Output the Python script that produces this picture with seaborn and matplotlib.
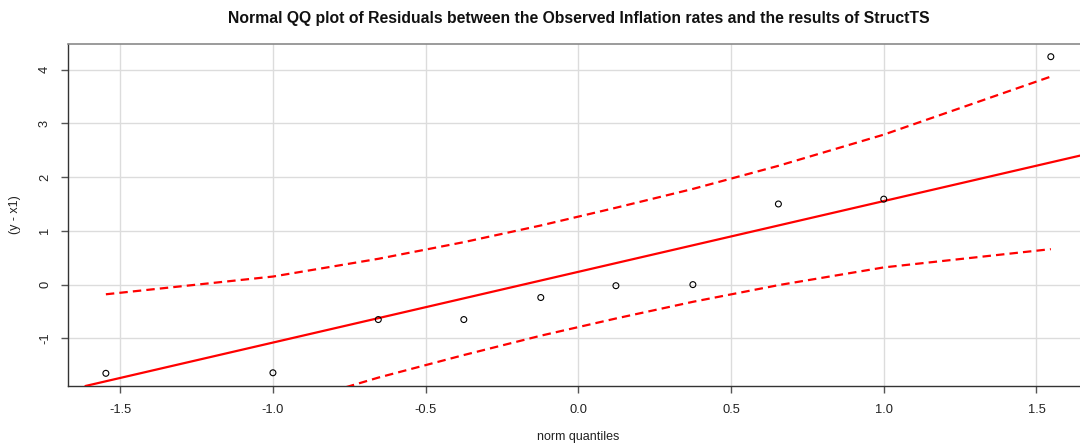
import matplotlib
matplotlib.use("Agg")
import matplotlib.pyplot as plt
import seaborn as sns
import pandas as pd

# ---- data ----
theo_quantiles = [-1.547, -1.000, -0.655, -0.375, -0.123, 0.123, 0.375, 0.655, 1.000, 1.547]
residuals = [-1.65, -1.64, -0.65, -0.65, -0.24, -0.02, 0.00, 1.50, 1.59, 4.24]
env_upper = [-0.18, 0.15, 0.48, 0.79, 1.10, 1.43, 1.78, 2.21, 2.79, 3.87]
env_lower = [-3.42, -2.31, -1.73, -1.31, -0.95, -0.63, -0.32, -0.01, 0.32, 0.66]
line_intercept = 0.238
line_slope = 1.316
x_ticks = [-1.5, -1.0, -0.5, 0.0, 0.5, 1.0, 1.5]
y_ticks = [-1, 0, 1, 2, 3, 4]
title = "Normal QQ plot of Residuals between the Observed Inflation rates and the results of StructTS"
x_label = "norm quantiles"
y_label = "(y - x1)"

sns.set_style("white")
plt.rcParams["font.family"] = ["Liberation Sans", "DejaVu Sans"]

df = pd.DataFrame({"z": theo_quantiles, "r": residuals,
                   "up": env_upper, "lo": env_lower})

fig = plt.figure(figsize=(10.8, 4.46), dpi=100)
ax = fig.add_axes([68 / 1080, 60 / 446, (1088.7 - 68) / 1080, (386 - 44) / 446])

ax.set_xlim(-1.671, 1.671)
ax.set_ylim(-1.886, 4.476)
ax.set_xticks(x_ticks)
ax.set_yticks(y_ticks)
ax.set_xticklabels([f"{t:.1f}" for t in x_ticks])
ax.set_yticklabels([str(t) for t in y_ticks], rotation=90, va="center")

ax.grid(True, color="#dcdcdc", linewidth=1.0)
ax.set_axisbelow(True)

sns.lineplot(data=df, x="z", y="up", ax=ax, color="red", linewidth=1.6,
             linestyle=(0, (3.8, 2.3)), zorder=3)
sns.lineplot(data=df, x="z", y="lo", ax=ax, color="red", linewidth=1.6,
             linestyle=(0, (3.8, 2.3)), zorder=3)
ax.axline((0, line_intercept), slope=line_slope, color="red", linewidth=1.6, zorder=3)
sns.scatterplot(data=df, x="z", y="r", ax=ax, s=18, facecolors="none",
                edgecolor="black", linewidth=0.8, zorder=4)

ax.set_xlabel("")
ax.set_ylabel("")

for side in ["left", "bottom"]:
    ax.spines[side].set_color("#333333")
    ax.spines[side].set_linewidth(1.0)
ax.spines["top"].set_color("#8a8a8a")
ax.spines["top"].set_linewidth(1.2)
ax.spines["right"].set_visible(False)

ax.tick_params(axis="both", direction="out", length=5.2, width=1.0,
               color="#555555", labelsize=9.3, labelcolor="#222222")
ax.tick_params(axis="x", pad=8)
ax.tick_params(axis="y", pad=7)
ax.tick_params(bottom=True, left=True)

fig.text(579 / 1080, 1 - 18 / 446, title, ha="center", va="center",
         fontsize=11.3, fontweight="bold", color="#111111")
fig.text(578 / 1080, 1 - 437 / 446, x_label, ha="center", va="center",
         fontsize=9, color="#222222")
fig.text(15 / 1080, 1 - 215 / 446, y_label, ha="center", va="center",
         fontsize=9, rotation=90, color="#222222")

fig.savefig("out.png", dpi=100)
